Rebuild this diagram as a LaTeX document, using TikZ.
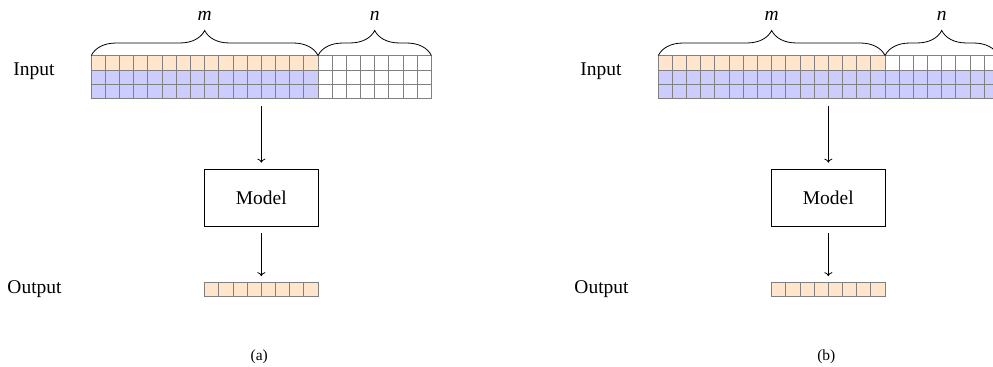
\documentclass[tikz,border=0pt]{standalone}
\usepackage{fontspec}
\setmainfont{Liberation Serif}
\usetikzlibrary{decorations.pathreplacing,arrows.meta}

% one unit = 1px (0.75pt), y grows downwards; \cs is the cell size
\def\cs{14.17}

\begin{document}
\begin{tikzpicture}[x=0.75pt,y=-0.75pt,
  font=\fontsize{14.6}{17.5}\selectfont,
  cellbox/.style={draw=gray, line width=0.75pt},
  blockbox/.style={inner sep=0pt, draw=none},
  modelbox/.style={draw, line width=0.6pt, inner sep=0pt,
    minimum width=85.02pt, minimum height=42.51pt},
  flow/.style={line width=0.6pt, -{To[length=3pt,width=6pt]}},
  bracestyle/.style={line width=0.6pt, decorate,
    decoration={brace, amplitude=18.75pt}},
  captionfont/.style={font=\fontsize{11.6}{14}\selectfont}]

\useasboundingbox (0,0) rectangle (993,367);
\clip (0,0) rectangle (993,367);

\foreach \p/\xo/\captext/\fb in {a/91.3/(a)/white, b/658.3/(b)/blue!20} {
  % input block: first m columns
  \foreach \i in {0,...,15} {
    \draw[cellbox, fill=orange!20] ({\xo+\i*\cs},56) rectangle ++(\cs,\cs);
    \foreach \r in {1,2}
      \draw[cellbox, fill=blue!20] ({\xo+\i*\cs},{56+\r*\cs}) rectangle ++(\cs,\cs);
  }
  % input block: last n columns
  \foreach \i in {16,...,23} {
    \draw[cellbox, fill=white] ({\xo+\i*\cs},56) rectangle ++(\cs,\cs);
    \foreach \r in {1,2}
      \draw[cellbox, fill=\fb] ({\xo+\i*\cs},{56+\r*\cs}) rectangle ++(\cs,\cs);
  }
  \node[blockbox, minimum width=255.06pt, minimum height=31.88pt]
    (\p-grid) at ({\xo+12*\cs},{56+1.5*\cs}) {};

  % braces with their labels
  \draw[bracestyle] (\xo,55.5) -- ({\xo+16*\cs},55.5);
  \draw[bracestyle] ({\xo+16*\cs},55.5) -- ({\xo+24*\cs},55.5);
  \node[anchor=base] (\p-m) at ({\xo+8*\cs},20.7) {\textit{m}};
  \node[anchor=base] (\p-n) at ({\xo+20*\cs},20.7) {\textit{n}};

  % model
  \node[modelbox] (\p-model) at ({\xo+12*\cs},{56+10*\cs}) {Model};

  % output row
  \foreach \i in {8,...,15}
    \draw[cellbox, fill=orange!20] ({\xo+\i*\cs},{56+16*\cs}) rectangle ++(\cs,\cs);
  \node[blockbox, minimum width=85.02pt, minimum height=10.63pt]
    (\p-out) at ({\xo+12*\cs},{56+16.5*\cs}) {};

  % connectors
  \draw[flow, shorten <=5.25pt, shorten >=4.7pt]
    (\p-model.north |- \p-grid.south) -- (\p-model.north);
  \draw[flow, shorten <=5.25pt, shorten >=4.7pt]
    (\p-model.south) -- (\p-out.north);

  % row labels and caption
  \node[anchor=base] (\p-inlab) at ({\xo-57.3},75.7) {Input};
  \node[anchor=base] (\p-outlab) at ({\xo-56.8},293.3) {Output};
  \node[anchor=base, captionfont] (\p-cap) at ({\xo+168},360) {\captext};
}
\end{tikzpicture}
\end{document}
